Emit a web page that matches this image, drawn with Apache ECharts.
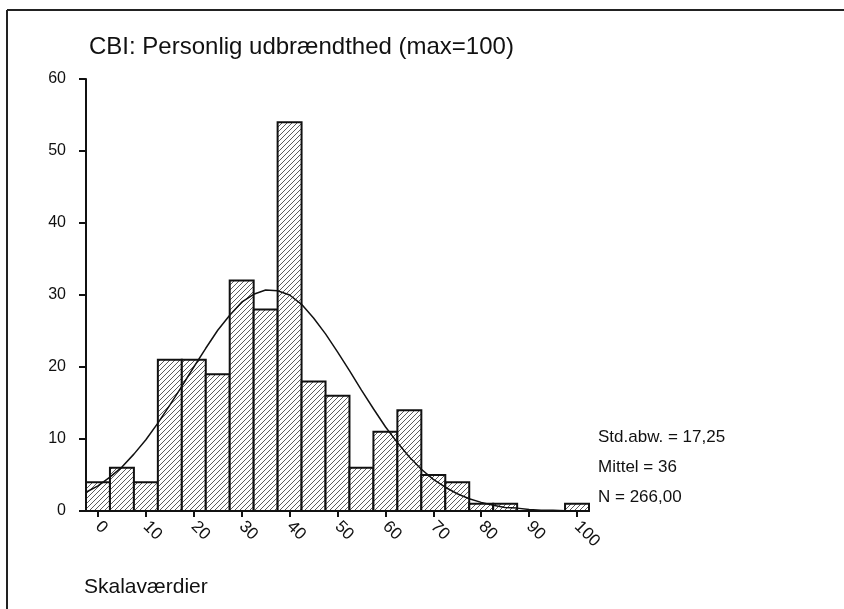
<!DOCTYPE html>
<html>
<head>
<meta charset="utf-8">
<title>CBI: Personlig udbrændthed</title>
<script src="https://cdn.jsdelivr.net/npm/echarts@6/dist/echarts.min.js"></script>
<style>
  html, body { margin: 0; padding: 0; background: #fff; }
  #chart { width: 844px; height: 609px; }
</style>
</head>
<body>
<div id="chart"></div>
<script>
// histogram bins (centre of each 5-point bin) and counts
const binCenters = [0, 5, 10, 15, 20, 25, 30, 35, 40, 45, 50, 55, 60, 65, 70, 75, 80, 85, 90, 95, 100]
const binCounts = [4, 6, 4, 21, 21, 19, 32, 28, 54, 18, 16, 6, 11, 14, 5, 4, 1, 1, 0, 0, 1]
const binWidth = 5

// fitted normal curve
const curveX = [-2.5, 0, 2.5, 5, 7.5, 10, 12.5, 15, 17.5, 20, 22.5, 25, 27.5, 30, 32.5, 35, 37.5, 40, 42.5,
  45, 47.5, 50, 52.5, 55, 57.5, 60, 62.5, 65, 67.5, 70, 72.5, 75, 77.5, 80, 82.5, 85, 87.5, 90, 92.5, 95, 97.5, 100]
const curveY = [2.6, 3.5, 4.7, 6.1, 7.9, 9.9, 12.2, 14.7, 17.3, 20.0, 22.6, 25.1, 27.2, 29.0, 30.1, 30.7, 30.6, 30.0, 28.7,
  26.8, 24.6, 22.1, 19.5, 16.8, 14.2, 11.7, 9.5, 7.5, 5.8, 4.4, 3.3, 2.4, 1.7, 1.2, 0.8, 0.5, 0.4, 0.2, 0.1, 0.1, 0.05, 0.03]

const xTicks = [0, 10, 20, 30, 40, 50, 60, 70, 80, 90, 100]
const statLines = ['Std.abw. = 17,25', 'Mittel = 36', 'N = 266,00']

const chart = echarts.init(document.getElementById('chart'))

// diagonal hatch used as bar fill
const hatch = document.createElement('canvas')
hatch.width = 5
hatch.height = 5
const hctx = hatch.getContext('2d')
hctx.fillStyle = '#fff'
hctx.fillRect(0, 0, 5, 5)
hctx.strokeStyle = '#333'
hctx.lineWidth = 0.8
hctx.beginPath()
hctx.moveTo(-1, 6)
hctx.lineTo(6, -1)
hctx.stroke()

const font = '"Liberation Sans", Arial, Helvetica, sans-serif'

function renderBin(params, api) {
  const c = api.value(0)
  const n = api.value(1)
  const p0 = api.coord([c - binWidth / 2, n])
  const p1 = api.coord([c + binWidth / 2, 0])
  return {
    type: 'rect',
    shape: { x: p0[0], y: p0[1], width: p1[0] - p0[0], height: p1[1] - p0[1] },
    style: { fill: { image: hatch, repeat: 'repeat' }, stroke: '#111', lineWidth: 2 }
  }
}

chart.setOption({
  backgroundColor: '#fff',
  animation: false,
  title: {
    text: 'CBI: Personlig udbrændthed (max=100)',
    left: 84,
    top: 30,
    textStyle: { fontFamily: font, fontSize: 24, fontWeight: 'normal', color: '#111' }
  },
  grid: { left: 86, right: 255, top: 79, bottom: 98 },
  xAxis: {
    type: 'value',
    min: -2.5,
    max: 102.5,
    splitLine: { show: false },
    axisLine: { onZero: false, lineStyle: { color: '#111', width: 2 } },
    axisTick: { customValues: xTicks, length: 6, lineStyle: { color: '#111', width: 2 } },
    axisLabel: {
      customValues: xTicks,
      rotate: -45,
      margin: 13,
      fontFamily: font,
      fontSize: 17,
      color: '#111'
    }
  },
  yAxis: {
    type: 'value',
    min: 0,
    max: 60,
    interval: 10,
    splitLine: { show: false },
    axisLine: { show: true, onZero: false, lineStyle: { color: '#111', width: 2 } },
    axisTick: { show: true, length: 7, lineStyle: { color: '#111', width: 2 } },
    axisLabel: { margin: 20, fontFamily: font, fontSize: 16, color: '#111' }
  },
  graphic: [
    { type: 'line', shape: { x1: 7, y1: 10, x2: 844, y2: 10 }, style: { stroke: '#222', lineWidth: 2 } },
    { type: 'line', shape: { x1: 7, y1: 10, x2: 7, y2: 609 }, style: { stroke: '#222', lineWidth: 2 } },
    {
      type: 'text', left: 84, top: 577,
      style: { text: 'Skalaværdier', fontFamily: font, fontSize: 21, fill: '#111' }
    }
  ].concat(statLines.map((t, i) => ({
    type: 'text',
    x: 598,
    y: 437 + i * 30,
    style: { text: t, fontFamily: font, fontSize: 17, fill: '#111', verticalAlign: 'middle' }
  }))),
  series: [
    {
      type: 'custom',
      renderItem: renderBin,
      encode: { x: 0, y: 1 },
      data: binCenters.map((c, i) => [c, binCounts[i]]),
      z: 2
    },
    {
      type: 'line',
      data: curveX.map((x, i) => [x, curveY[i]]),
      showSymbol: false,
      smooth: false,
      lineStyle: { color: '#111', width: 1.5 },
      z: 3
    }
  ]
})
</script>
</body>
</html>
